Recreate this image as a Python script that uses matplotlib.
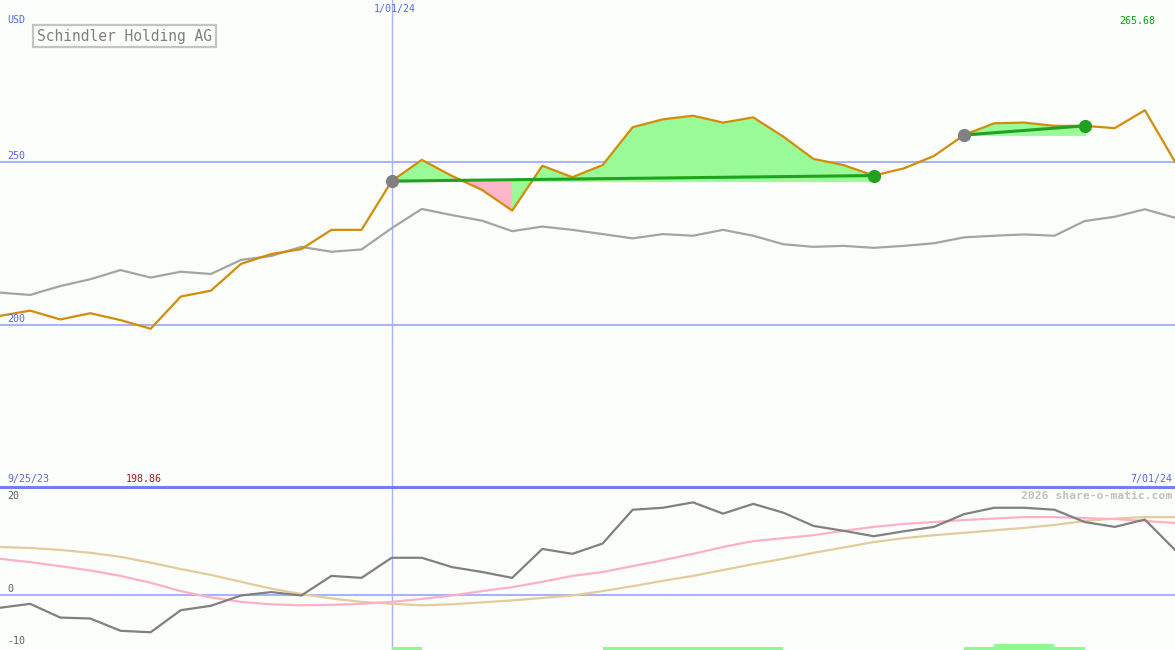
import matplotlib
matplotlib.use("Agg")
import matplotlib.pyplot as plt
import numpy as np

# weekly closes, 9/25/23 .. 7/01/24
price = [202.8, 204.4, 201.7, 203.6, 201.5, 198.86, 208.7, 210.5, 218.7, 221.7,
         223.2, 229.1, 229.1, 244.0, 250.5, 245.6, 241.3, 235.0, 248.7, 245.2,
         248.9, 260.5, 262.9, 264.0, 261.9, 263.5, 257.6, 250.8, 248.9, 245.7,
         247.9, 251.7, 258.1, 261.7, 261.9, 260.9, 260.9, 260.2, 265.68, 249.9]
compare = [209.9, 209.2, 211.9, 214.0, 216.8, 214.5, 216.3, 215.6, 219.9, 221.1,
           223.9, 222.4, 223.1, 229.6, 235.5, 233.6, 231.9, 228.7, 230.1, 229.1,
           227.8, 226.5, 227.8, 227.3, 229.1, 227.3, 224.7, 223.9, 224.2, 223.6,
           224.2, 225.0, 226.8, 227.3, 227.7, 227.3, 231.8, 233.1, 235.4, 232.8]

momentum = [-2.6, -1.8, -4.6, -4.8, -7.3, -7.6, -3.1, -2.2, -0.1, 0.6,
            -0.1, 3.9, 3.5, 7.6, 7.6, 5.7, 4.7, 3.5, 9.4, 8.4,
            10.5, 17.4, 17.8, 18.9, 16.6, 18.6, 16.8, 14.1, 13.1, 12.0,
            13.0, 13.9, 16.5, 17.8, 17.8, 17.4, 14.9, 13.9, 15.4, 9.2]
signal_fast = [7.4, 6.7, 5.9, 5.0, 3.9, 2.5, 0.8, -0.5, -1.4, -1.9,
               -2.1, -2.0, -1.8, -1.4, -0.8, -0.1, 0.8, 1.6, 2.7, 3.9,
               4.7, 5.9, 7.1, 8.4, 9.8, 11.0, 11.6, 12.2, 13.1, 13.9,
               14.5, 14.9, 15.3, 15.6, 15.9, 15.9, 15.7, 15.5, 15.1, 14.7]
signal_slow = [9.8, 9.6, 9.2, 8.6, 7.8, 6.6, 5.3, 4.1, 2.7, 1.3,
               0.2, -0.7, -1.4, -1.8, -2.1, -1.9, -1.5, -1.1, -0.6, -0.1,
               0.8, 1.8, 2.9, 3.9, 5.1, 6.3, 7.4, 8.6, 9.7, 10.8,
               11.6, 12.2, 12.7, 13.2, 13.7, 14.3, 15.1, 15.6, 15.9, 15.9]

# trades: (entry week, exit week)
trades = [(13, 29), (32, 36)]

# holding bars at bottom: start, end, level
bar_start = [13, 20, 32, 33]
bar_end = [14, 26, 36, 35]
bar_level = [1, 1, 1, 2]

BG = "#fcfefc"
BLUE_TXT = "#5566ee"
GRID = "#a8b4f4"

x = np.arange(len(price))
W, H = 1175, 650

fig = plt.figure(figsize=(W / 100, H / 100), dpi=100, facecolor=BG)
top = fig.add_axes([0, 163 / H, 1, 487 / H])
bot = fig.add_axes([0, 0, 1, 163 / H])
for ax in (top, bot):
    ax.set_facecolor(BG)
    ax.set_xlim(0, len(price) - 1)
    ax.axis("off")

top.set_ylim(150.46, 299.39)
bot.set_ylim(-11.22, 22.04)

# reference lines
for lvl in (250, 200):
    top.axhline(lvl, color=GRID, lw=1.5, zorder=1)
bot.axhline(0, color=GRID, lw=1.5, zorder=1)
top.axvline(13, color=GRID, lw=1, zorder=1)
bot.axvline(13, color=GRID, lw=1, zorder=1)

top.plot(x, compare, color="#a4a4a4", lw=1.6, zorder=2)

# trade fills
for a, b in trades:
    entry = price[a]
    for i in range(a, b):
        col = "#98fb98" if price[i + 1] >= entry else "#ffb6c8"
        top.fill_between(x[i:i + 2], price[i:i + 2], entry, facecolor=col,
                         edgecolor=col, lw=0.6, zorder=2)

top.plot(x, price, color="#d48c08", lw=1.6, zorder=3)

for a, b in trades:
    top.plot([a, b], [price[a], price[b]], color="#22a022", lw=2.2, zorder=4)
    top.plot(a, price[a], "o", color="#808080", ms=8.5, zorder=5)
    top.plot(b, price[b], "o", color="#22a022", ms=8.5, zorder=5)

# lower panel
bot.plot(x, signal_slow, color="#e4cc98", lw=1.6, zorder=2)
bot.plot(x, signal_fast, color="#ffb0c8", lw=1.6, zorder=2)
bot.plot(x, momentum, color="#808080", lw=1.6, zorder=3)
for s, e, lv in zip(bar_start, bar_end, bar_level):
    bot.bar(s, 0.6 * lv, width=e - s, bottom=-11.22, align="edge",
            color="#90f890", lw=0, zorder=2)

# separator
fig.add_artist(plt.Line2D([0, 1], [163 / H, 163 / H], color="#7080f0", lw=2.2))

mono = "DejaVu Sans Mono"


def txt(px, py, s, color, size=7.2, ha="left", **kw):
    fig.text(px / W, 1 - py / H, s, color=color, fontsize=size, ha=ha,
             va="center", family=mono, **kw)


txt(7, 20, "USD", BLUE_TXT)
txt(395, 9, "1/01/24", BLUE_TXT, ha="center")
txt(1155, 21, "265.68", "#109a10", ha="right")
txt(7, 156, "250", BLUE_TXT)
txt(7, 319, "200", BLUE_TXT)
txt(7, 479, "9/25/23", BLUE_TXT)
txt(126, 479, "198.86", "#a01818")
txt(1172, 479, "7/01/24", BLUE_TXT, ha="right")
txt(7, 496, "20", "#606060")
txt(7, 589, "0", "#606060")
txt(7, 641, "-10", "#606060")
txt(1172, 496, "2026 share-o-matic.com", "#c0c0c0", size=8.2, ha="right",
    weight="bold")
fig.text(37 / W, 1 - 36 / H, "Schindler Holding AG", color="#808080",
         fontsize=10.5, family=mono, ha="left", va="center",
         bbox=dict(boxstyle="square,pad=0.25", fc=BG, ec="#c4c4c4", lw=1.6))

fig.savefig("out.png", dpi=100, facecolor=BG)
